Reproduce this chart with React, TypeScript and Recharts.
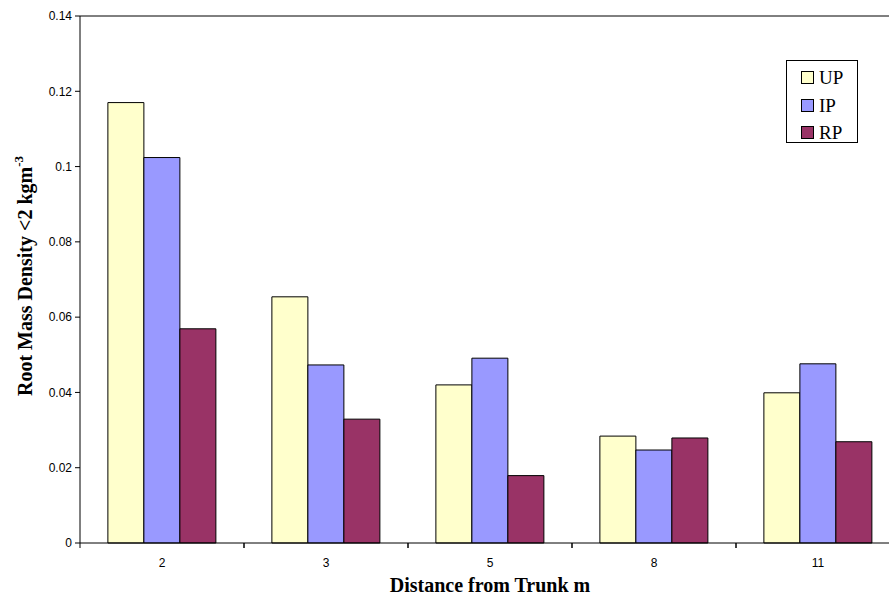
import React from "react";
import { BarChart, Bar, XAxis, YAxis, Legend, ReferenceLine } from "recharts";

const distances = ["2", "3", "5", "8", "11"];
const seriesNames = ["UP", "IP", "RP"];
const upValues = [0.117, 0.0654, 0.042, 0.0284, 0.0399];
const ipValues = [0.1024, 0.0473, 0.0491, 0.0247, 0.0476];
const rpValues = [0.0569, 0.0329, 0.0179, 0.0279, 0.0269];
const yTicks = [0, 0.02, 0.04, 0.06, 0.08, 0.1, 0.12, 0.14];

const data = distances.map((d, i) => ({
  distance: d,
  UP: upValues[i],
  IP: ipValues[i],
  RP: rpValues[i],
}));

const XTick = (props: any) => {
  const { x, y, payload } = props;
  const half = payload && typeof payload.offset === "number" && payload.offset > 0 ? payload.offset : 98;
  const axisY = y - 8;
  return (
    <g>
      <line x1={x - half} y1={axisY} x2={x - half} y2={axisY + 5} stroke="#000" />
      <line x1={x + half} y1={axisY} x2={x + half} y2={axisY + 5} stroke="#000" />
      <text x={x} y={axisY + 24} textAnchor="middle" fontFamily="Arial, 'Liberation Sans', sans-serif" fontSize={12} fill="#000">
        {payload.value}
      </text>
    </g>
  );
};

const XLabel = (props: any) => {
  const vb = props.viewBox || { x: 80, y: 543, width: 820, height: 56 };
  return (
    <text
      x={vb.x + vb.width / 2}
      y={vb.y + 49}
      textAnchor="middle"
      fontFamily="'Times New Roman', 'Liberation Serif', serif"
      fontWeight="bold"
      fontSize={20}
      fill="#000"
    >
      Distance from Trunk m
    </text>
  );
};

const YLabel = () => (
  <text
    transform="translate(32, 276) rotate(-90)"
    textAnchor="middle"
    fontFamily="'Times New Roman', 'Liberation Serif', serif"
    fontWeight="bold"
    fontSize={20}
    fill="#000"
  >
    Root Mass Density &lt;2 kgm
    <tspan fontSize={13} dy={-9}>-3</tspan>
  </text>
);

const LegendBox = (props: any) => {
  const items = props.payload || [];
  const ordered = seriesNames
    .map((n) => items.find((it: any) => it.value === n))
    .filter(Boolean);
  return (
    <div
      style={{
        border: "1px solid #000",
        background: "#fff",
        width: 72,
        height: 83,
        boxSizing: "border-box",
        paddingTop: 3,
      }}
    >
      {ordered.map((it: any) => (
        <div key={it.value} style={{ display: "flex", alignItems: "center", height: 27.5, paddingLeft: 14 }}>
          <span
            style={{
              display: "inline-block",
              width: 11,
              height: 11,
              border: "1px solid #000",
              background: it.color,
              marginRight: 5,
            }}
          />
          <span style={{ fontFamily: "'Times New Roman', 'Liberation Serif', serif", fontSize: 19, lineHeight: "19px", color: "#000" }}>
            {it.value}
          </span>
        </div>
      ))}
    </div>
  );
};

export default function App() {
  return (
    <div style={{ position: "fixed", left: 0, top: 0, width: 889, height: 599, overflow: "hidden", background: "#fff" }}>
      <BarChart
        width={900}
        height={599}
        data={data}
        margin={{ top: 16, right: 0, left: 0, bottom: 0 }}
        barCategoryGap="17%"
        barGap={0}
      >
        <XAxis
          dataKey="distance"
          height={56}
          axisLine={{ stroke: "#000" }}
          tickLine={false}
          tick={<XTick />}
          tickMargin={3}
          tickSize={5}
          interval={0}
          label={<XLabel />}
        />
        <YAxis
          width={80}
          domain={[0, 0.14]}
          ticks={yTicks}
          interval={0}
          tickFormatter={(v: number) => String(+v.toFixed(2))}
          axisLine={{ stroke: "#000" }}
          tickLine={{ stroke: "#000" }}
          tickSize={5}
          tickMargin={3}
          tick={{ fontFamily: "Arial, 'Liberation Sans', sans-serif", fontSize: 12, fill: "#000" }}
          label={<YLabel />}
        />
        <ReferenceLine y={0.14} stroke="#000" />
        <Legend
          layout="vertical"
          align="center"
          verticalAlign="middle"
          itemSorter={null as any}
          content={<LegendBox />}
          wrapperStyle={{ position: "absolute", left: 786, top: 60, width: 72, height: 83 }}
        />
        <Bar dataKey="UP" name="UP" fill="#FFFFCC" stroke="#000" strokeWidth={1} isAnimationActive={false} />
        <Bar dataKey="IP" name="IP" fill="#9999FF" stroke="#000" strokeWidth={1} isAnimationActive={false} />
        <Bar dataKey="RP" name="RP" fill="#993366" stroke="#000" strokeWidth={1} isAnimationActive={false} />
      </BarChart>
    </div>
  );
}
